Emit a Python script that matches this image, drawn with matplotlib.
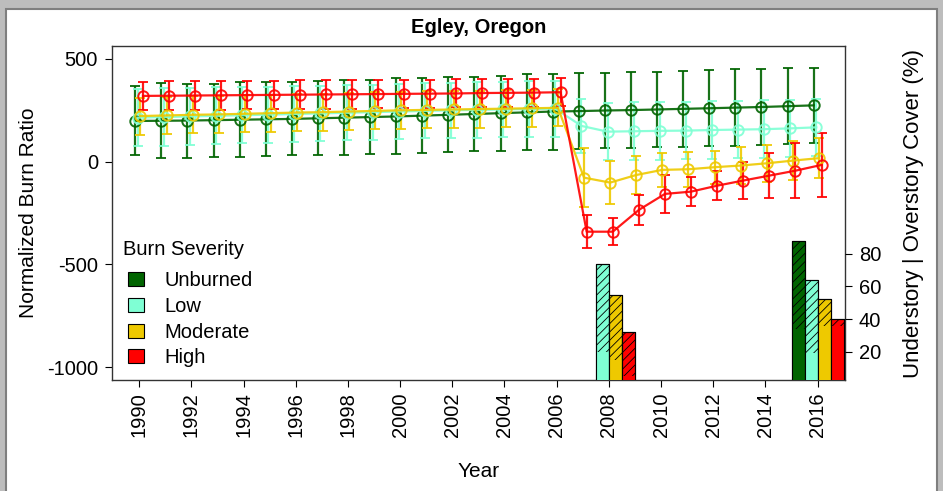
import numpy as np
import matplotlib.pyplot as plt
from matplotlib.patches import Patch, Rectangle

plt.rcParams['font.family'] = ['Liberation Sans', 'DejaVu Sans']
plt.rcParams['axes.unicode_minus'] = False
plt.rcParams['hatch.linewidth'] = 0.6

years = np.arange(1990, 2017)
severity = ['Unburned', 'Low', 'Moderate', 'High']
colors = ['#006400', '#7FFFD4', '#EEC900', '#FF0000']

# mean NBR per year (1990-2016) and +/- spread for each burn severity class
nbr_unburned = [198, 199, 200, 202, 204, 206, 208, 211, 214, 217, 220, 224, 228, 232, 236, 240, 244,
                246, 249, 251, 254, 257, 260, 263, 266, 270, 274]
err_unburned = [168, 183, 180, 178, 182, 180, 178, 180, 182, 182, 185, 183, 183, 182, 183, 185, 185,
                185, 184, 183, 184, 184, 185, 186, 185, 184, 182]

nbr_low = [214, 217, 220, 223, 226, 229, 232, 235, 238, 241, 244, 247, 250, 252, 254, 256, 258,
           174, 146, 148, 150, 151, 154, 156, 158, 162, 167]
err_low = [140, 140, 138, 138, 137, 136, 136, 135, 135, 134, 134, 134, 135, 135, 135, 136, 136,
           130, 140, 140, 140, 140, 140, 140, 140, 140, 140]

nbr_moderate = [222, 225, 228, 230, 233, 236, 239, 241, 244, 247, 250, 252, 254, 256, 258, 260, 262,
                -78, -102, -65, -40, -37, -27, -19, -8, 5, 17]
err_moderate = [90, 90, 90, 90, 90, 90, 90, 90, 90, 90, 90, 90, 90, 90, 90, 90, 90,
                145, 105, 93, 83, 85, 80, 88, 90, 95, 99]

nbr_high = [320, 321, 322, 323, 324, 325, 326, 327, 328, 329, 330, 331, 332, 334, 335, 336, 338,
            -341, -341, -235, -157, -146, -117, -92, -68, -44, -16]
err_high = [70, 70, 70, 70, 70, 70, 70, 70, 70, 68, 68, 68, 68, 68, 68, 68, 68,
            80, 65, 75, 93, 70, 70, 90, 110, 133, 157]

# vegetation cover (%) after the fire
cover_years = [2008, 2016]
under_unburned = [np.nan, 34]
over_unburned = [np.nan, 88]
under_low = [20, 19]
over_low = [74, 64]
under_moderate = [15, 36]
over_moderate = [55, 52]
under_high = [5, 36]
over_high = [32, 40]

nbr = [nbr_unburned, nbr_low, nbr_moderate, nbr_high]
errs = [err_unburned, err_low, err_moderate, err_high]
under = [under_unburned, under_low, under_moderate, under_high]
over = [over_unburned, over_low, over_moderate, over_high]

fig = plt.figure(figsize=(9.43, 4.91), dpi=100)
fig.patch.set_facecolor('#bdbdbd')
fig.patches.append(Rectangle((6 / 943, -0.05), 931 / 943, (491 - 9) / 491 + 0.05,
                             transform=fig.transFigure, facecolor='white',
                             edgecolor='#7f7f7f', linewidth=1.5, zorder=-10))

ax = fig.add_axes([112 / 943, 111 / 491, 733 / 943, 334 / 491])
ax.set_facecolor('none')

line_off = [-0.15, -0.05, 0.05, 0.15]
for i in range(4):
    ax.errorbar(years + line_off[i], nbr[i], yerr=errs[i], color=colors[i], fmt='-o',
                markerfacecolor='none', markersize=7.5, markeredgewidth=1.4, lw=1.6,
                elinewidth=1.6, capsize=3.6, capthick=1.6, alpha=0.9)

ax.set_xlim(1988.96, 2017.05)
ax.set_ylim(-1063, 563)
ax.set_xticks(np.arange(1990, 2017, 2))
ax.set_yticks([500, 0, -500, -1000])
ax.tick_params(axis='x', labelrotation=90, length=5, pad=4, labelsize=14.5)
ax.tick_params(axis='y', length=5, pad=5, labelsize=14.5)
for s in ax.spines.values():
    s.set_color('#333333')
    s.set_linewidth(1)

ax.set_title('Egley, Oregon', fontsize=14.5, fontweight='bold', pad=9)
ax.set_ylabel('Normalized Burn Ratio', fontsize=15, va='center')
ax.yaxis.set_label_coords(-0.114, 0.5)
ax.set_xlabel('Year', fontsize=15, va='center')
ax.xaxis.set_label_coords(0.5, -0.275)

# cover bars on a second scale: hatched = overstory, solid = understory
ax2 = ax.twinx()
bar_off = [-0.75, -0.25, 0.25, 0.75]
for i in range(4):
    x = np.array(cover_years) + bar_off[i]
    ax2.bar(x, over[i], width=0.5, color=colors[i], edgecolor='black', hatch='////', linewidth=0.8)
    ax2.bar(x, under[i], width=0.5, color=colors[i], edgecolor='none', linewidth=0)
    ax2.bar(x, over[i], width=0.5, fill=False, edgecolor='black', linewidth=0.8)
ax2.set_ylim(2.6, 207.5)
ax2.set_yticks([20, 40, 60, 80])
ax2.tick_params(axis='y', length=5, pad=5, labelsize=14.5)
for s in ax2.spines.values():
    s.set_visible(False)
ax2.set_ylabel('Understory | Overstory Cover (%)', fontsize=16, va='center')
ax2.yaxis.set_label_coords(1.093, 0.5)

ax2.text(0.015, 0.392, 'Burn Severity', transform=ax2.transAxes, fontsize=14.5,
         ha='left', va='center')
handles = [Patch(facecolor=c, edgecolor='black', linewidth=0.8) for c in colors]
leg = ax2.legend(handles, severity, loc='upper left', bbox_to_anchor=(0.022, 0.325),
                 frameon=False, fontsize=14.5, handlelength=0.8, handleheight=0.7,
                 handletextpad=1.0, labelspacing=0.33, borderaxespad=0, borderpad=0)

fig.savefig('out.png', dpi=100, facecolor=fig.get_facecolor())
